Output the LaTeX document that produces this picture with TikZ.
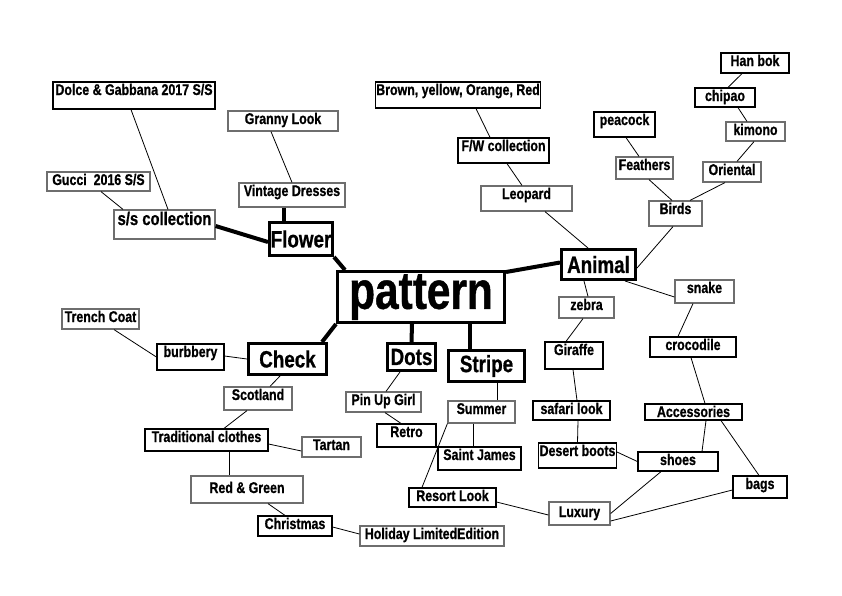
\documentclass[tikz,border=0pt]{standalone}
\usepackage{fontspec}
\setmainfont{Liberation Sans}[FakeStretch=0.8, BoldFeatures={FakeBold=0.8}]
\usepackage{xcolor}
\definecolor{ink}{HTML}{000000}
\definecolor{rim}{HTML}{6E6E6E}
\usepackage{tikz}

\begin{document}
\begin{tikzpicture}[
  x=1pt, y=-1pt,
  leaf/.style={draw=rim, line width=1.2pt, fill=white, align=center, inner sep=1pt,
               text height=12pt, font=\bfseries\fontsize{15.5}{17}\selectfont},
  darkleaf/.style={leaf, draw=ink},
  topic/.style={draw=ink, line width=3pt, fill=white, align=center, inner sep=1pt,
                font=\bfseries\fontsize{23.5}{25}\selectfont},
  core/.style={topic, font=\bfseries\fontsize{53}{55}\selectfont},
  twig/.style={line width=0.8pt, color=ink},
  limb/.style={line width=4pt, color=ink}
]
\useasboundingbox (0,0) rectangle (842,595);
% centre and main branches
\node[core, minimum width=167, minimum height=51] (pattern) at (421,297) {pattern};
\node[topic, minimum width=63, minimum height=33] (flower) at (301,239) {Flower};
\node[topic, minimum width=74, minimum height=30] (animal) at (598.5,264.5) {Animal};
\node[topic, minimum width=78, minimum height=31] (check) at (287.5,359) {Check};
\node[topic, minimum width=48, minimum height=27] (dots) at (411.5,357) {Dots};
\node[topic, minimum width=76, minimum height=31] (stripe) at (486.5,366) {Stripe};
% flower side
\node[darkleaf, minimum width=162, text depth=13pt] (dolce) at (134,95.5) {Dolce \& Gabbana 2017 S/S};
\node[leaf, minimum width=110, text depth=6pt] (granny) at (283,121) {Granny Look};
\node[leaf, minimum width=103, text depth=5pt] (gucci) at (98.5,181.5) {Gucci\ \ 2016 S/S};
\node[leaf, minimum width=106, text depth=10pt] (vintage) at (292,195) {Vintage Dresses};
\node[leaf, minimum width=101, text height=14pt, text depth=13pt, font=\bfseries\fontsize{18.5}{20}\selectfont] (sscoll) at (164.5,224.5) {s/s collection};
% animal side
\node[darkleaf, minimum width=68, text depth=6pt] (hanbok) at (755,63) {Han bok};
\node[darkleaf, minimum width=162, text depth=12pt] (brown) at (458,95) {Brown, yellow, Orange, Red};
\node[darkleaf, minimum width=60, text depth=5pt] (chipao) at (725,97.5) {chipao};
\node[darkleaf, minimum width=61, text depth=11pt] (peacock) at (624.5,124.5) {peacock};
\node[leaf, minimum width=59, text depth=5pt] (kimono) at (755.5,131.5) {kimono};
\node[darkleaf, minimum width=91, text depth=11pt] (fwcoll) at (503.5,150.5) {F/W collection};
\node[leaf, minimum width=57, text depth=8pt] (feathers) at (644.5,168) {Feathers};
\node[leaf, minimum width=58, text depth=6pt] (oriental) at (732,172) {Oriental};
\node[leaf, minimum width=91, text depth=11pt] (leopard) at (526.5,198.5) {Leopard};
\node[leaf, minimum width=53, text depth=11pt] (birds) at (675.5,213.5) {Birds};
\node[leaf, minimum width=55, text depth=7pt] (zebra) at (586.5,307.5) {zebra};
\node[leaf, minimum width=59, text depth=9pt] (snake) at (704.5,291.5) {snake};
\node[darkleaf, minimum width=58, text depth=13pt] (giraffe) at (574,355.5) {Giraffe};
\node[darkleaf, minimum width=86, text depth=6pt] (croc) at (693,347) {crocodile};
\node[darkleaf, minimum width=77, text depth=5pt] (safari) at (571.5,410.5) {safari look};
\node[darkleaf, minimum width=97, text depth=2pt] (access) at (693.5,412) {Accessories};
\node[darkleaf, minimum width=77, text depth=11pt] (desert) at (577.5,455.5) {Desert boots};
\node[darkleaf, minimum width=80, text depth=5pt] (shoes) at (678,461.5) {shoes};
\node[darkleaf, minimum width=54, text depth=8pt] (bags) at (760,487) {bags};
\node[leaf, minimum width=61, text height=14pt, text depth=7pt] (luxury) at (579.5,513.5) {Luxury};
% check side
\node[leaf, minimum width=77, text depth=6pt] (trench) at (100.5,319) {Trench Coat};
\node[darkleaf, minimum width=67, text depth=12pt] (burbbery) at (190.5,357) {burbbery};
\node[leaf, minimum width=68, text depth=9pt] (scotland) at (258,398.5) {Scotland};
\node[darkleaf, minimum width=123, text depth=8pt] (tradition) at (206.5,440) {Traditional clothes};
\node[leaf, minimum width=59, text depth=6pt] (tartan) at (331.5,447) {Tartan};
\node[leaf, minimum width=112, text height=16pt, text depth=9pt] (redgreen) at (247,489.5) {Red \& Green};
\node[darkleaf, minimum width=74, text depth=6pt] (christmas) at (295,526) {Christmas};
\node[leaf, minimum width=144, text depth=6pt] (holiday) at (432,536) {Holiday LimitedEdition};
% dots and stripe side
\node[leaf, minimum width=75, text depth=6pt] (pinup) at (383.5,402) {Pin Up Girl};
\node[darkleaf, minimum width=59, text depth=9pt] (retro) at (406.5,435.5) {Retro};
\node[leaf, minimum width=67, text depth=8pt] (summer) at (481.5,412) {Summer};
\node[darkleaf, minimum width=83, text depth=9pt] (stjames) at (479.5,458.5) {Saint James};
\node[darkleaf, minimum width=87, text depth=5pt] (resort) at (452.5,497.5) {Resort Look};

% thick branches
\draw[limb] (flower.south east) -- ([xshift=9]pattern.north west);
\draw[limb] ([yshift=-2]pattern.north east) -- ([yshift=2]animal.west);
\draw[limb] ([xshift=-6]check.north east) -- (pattern.south west);
\draw[limb] ([xshift=-9]pattern.south) -- (dots.north);
\draw[limb] ([xshift=49]pattern.south) -- ([xshift=-16.5]stripe.north);
\draw[limb] ([xshift=-8]vintage.south) -- ([xshift=-17]flower.north);
\draw[limb] ([yshift=-1.5]sscoll.east) -- ([yshift=-3]flower.west);

% thin connectors
\draw[twig] ([xshift=-3]dolce.south) -- ([xshift=3.5]sscoll.north);
\draw[twig] ([xshift=2.5]gucci.south) -- ([xshift=-41.5]sscoll.north);
\draw[twig] ([xshift=-12]granny.south) -- (vintage.north);
\draw[twig] ([xshift=-13]hanbok.south) -- ([xshift=3]chipao.north);
\draw[twig] ([xshift=13]chipao.south) -- ([xshift=-8.5]kimono.north);
\draw[twig] ([xshift=-1.5]kimono.south) -- ([xshift=5]oriental.north);
\draw[twig] ([xshift=-7]oriental.south) -- ([xshift=14.5]birds.north);
\draw[twig] ([xshift=1.5]peacock.south) -- ([xshift=-5.5]feathers.north);
\draw[twig] ([xshift=4.5]feathers.south) -- ([xshift=-3.5]birds.north);
\draw[twig] ([xshift=18]brown.south) -- ([xshift=-13.5]fwcoll.north);
\draw[twig] ([xshift=3.5]fwcoll.south) -- ([xshift=-4.5]leopard.north);
\draw[twig] ([xshift=18.5]leopard.south) -- ([xshift=-10.5]animal.north);
\draw[twig] ([xshift=-2.5]birds.south) -- ([yshift=-3.5]animal.east);
\draw[twig] ([xshift=-14.5]animal.south) -- ([xshift=1.5]zebra.north);
\draw[twig] ([xshift=-12]animal.south east) -- ([yshift=-5.5]snake.west);
\draw[twig] ([xshift=-3.5]zebra.south) -- ([xshift=-8]giraffe.north);
\draw[twig] ([xshift=-1]giraffe.south) -- ([xshift=5.5]safari.north);
\draw[twig] ([xshift=6.5]safari.south) -- (desert.north);
\draw[twig] ([xshift=-11.5]snake.south) -- ([xshift=-15]croc.north);
\draw[twig] ([xshift=-2]croc.south) -- ([xshift=11.5]access.north);
\draw[twig] ([xshift=12.5]access.south) -- ([xshift=24]shoes.north);
\draw[twig] ([xshift=27.5]access.south) -- ([xshift=-1]bags.north);
\draw[twig] ([yshift=3.5]desert.east) -- (shoes.west);
\draw[twig] ([xshift=-17]shoes.south) -- (luxury.east);
\draw[twig] ([yshift=-3]bags.west) -- ([yshift=-7.5]luxury.east);
\draw[twig] ([xshift=13.5]trench.south) -- (burbbery.west);
\draw[twig] ([yshift=1]burbbery.east) -- (check.west);
\draw[twig] ([xshift=-7.5]check.south) -- ([xshift=12]scotland.north);
\draw[twig] ([xshift=-11]scotland.south) -- ([xshift=17.5]tradition.north);
\draw[twig] ([yshift=-4]tradition.east) -- ([yshift=-4]tartan.west);
\draw[twig] ([xshift=22.5]tradition.south) -- ([xshift=-18]redgreen.north);
\draw[twig] ([xshift=21]redgreen.south) -- ([xshift=-10]christmas.north);
\draw[twig] ([yshift=-1]christmas.east) -- ([yshift=2]holiday.west);
\draw[twig] ([xshift=-11.5]dots.south) -- ([xshift=2.5]pinup.north);
\draw[twig] ([xshift=1.5]pinup.south) -- ([xshift=-5.5]retro.north);
\draw[twig] ([xshift=10.5]stripe.south) -- ([xshift=15.5]summer.north);
\draw[twig] ([xshift=-8.5]summer.south) -- ([xshift=-6.5]stjames.north);
\draw[twig] (summer.south west) -- ([xshift=-30.5]resort.north);
\draw[twig] ([yshift=-4.5]resort.east) -- ([yshift=-1.5]luxury.west);
\end{tikzpicture}
\end{document}
